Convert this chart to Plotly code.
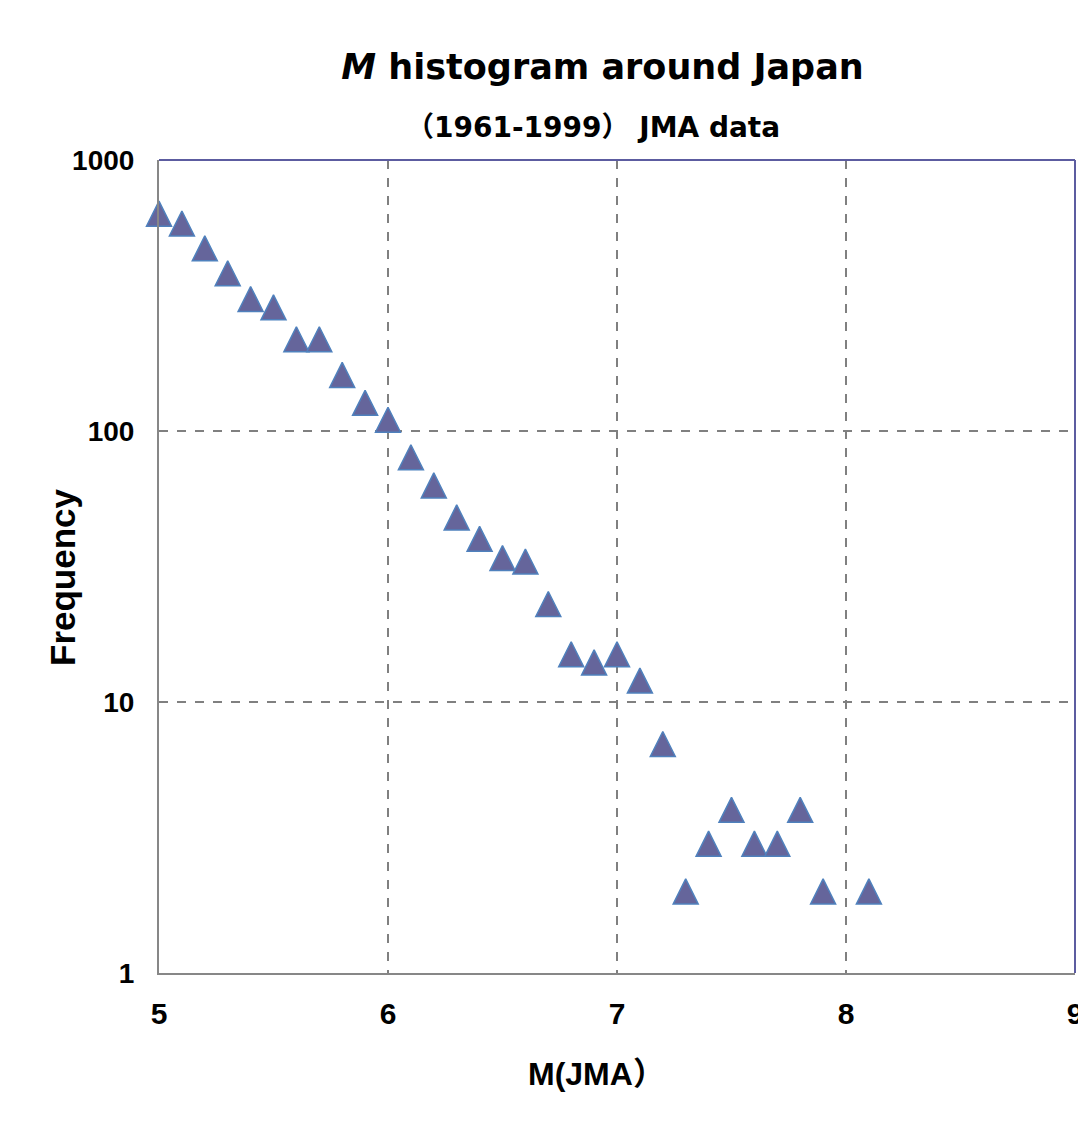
import plotly.graph_objects as go

magnitude = [5.0, 5.1, 5.2, 5.3, 5.4, 5.5, 5.6, 5.7, 5.8, 5.9,
             6.0, 6.1, 6.2, 6.3, 6.4, 6.5, 6.6, 6.7, 6.8, 6.9,
             7.0, 7.1, 7.2, 7.3, 7.4, 7.5, 7.6, 7.7, 7.8, 7.9, 8.1]
frequency = [634, 583, 472, 382, 307, 286, 218, 218, 161, 127,
             110, 80, 63, 48, 40, 34, 33, 23, 15, 14,
             15, 12, 7, 2, 3, 4, 3, 3, 4, 2, 2]

x_ticks = [5, 6, 7, 8, 9]
y_ticks = [1, 10, 100, 1000]
y_tick_text = ["1", "10", "100", "1000"]

FONT = "Liberation Sans, Arial, Noto Sans CJK JP, sans-serif"
NARROW = "Liberation Sans Narrow, Liberation Sans, Arial, sans-serif"
TFONT = "DejaVu Sans, Noto Sans CJK JP, sans-serif"
MSIZE = 25

# plot area in pixels
L, R, T, B = 159, 1075, 160, 973
W, H = 1078, 1129
PW, PH = R - L, B - T


def px_x(px):
    return (px - L) / PW


def px_y(py):
    return (B - py) / PH


fig = go.Figure()
fig.add_trace(go.Scatter(
    x=magnitude, y=frequency, mode="markers",
    marker=dict(symbol="arrow-down", angle=180, standoff=MSIZE / 2,
                size=MSIZE, color="#65659B",
                line=dict(color="#4F81BD", width=1.5)),
    showlegend=False, cliponaxis=False,
))

fig.update_layout(
    width=W, height=H,
    margin=dict(l=L, r=W - R, t=T, b=H - B, autoexpand=False),
    paper_bgcolor="white", plot_bgcolor="white",
    font=dict(family=FONT, color="black"),
    title=dict(text="<b><i>M</i> histogram around Japan</b>",
               x=602.5 / W, xanchor="center", xref="container",
               y=1 - 67 / H, yanchor="middle", automargin=False,
               font=dict(size=35, family=TFONT, color="black")),
    annotations=[
        dict(text="<b>（1961-1999） JMA data</b>", xref="paper", yref="paper",
             x=px_x(593), y=px_y(127),
             xanchor="center", yanchor="middle", showarrow=False,
             font=dict(size=28, family=TFONT, color="black")),
        dict(text="<b>Frequency</b>", xref="paper", yref="paper",
             x=px_x(62), y=px_y(577), textangle=-90,
             xanchor="center", yanchor="middle", showarrow=False,
             font=dict(size=35, family=FONT, color="black")),
        dict(text="<b>M(JMA）</b>", xref="paper", yref="paper",
             x=px_x(596), y=px_y(1074),
             xanchor="center", yanchor="middle", showarrow=False,
             font=dict(size=32, family=FONT, color="black")),
    ],
    shapes=[
        dict(type="line", xref="paper", yref="paper", x0=0, x1=1, y0=1, y1=1,
             line=dict(color="#5C5CA0", width=2), layer="above"),
        dict(type="line", xref="paper", yref="paper", x0=1, x1=1, y0=0, y1=1,
             line=dict(color="#5C5CA0", width=2), layer="above"),
    ],
)

fig.update_xaxes(
    range=[5, 9], tickvals=x_ticks, ticks="", ticklabelstandoff=13,
    ticklabeloverflow="allow", automargin=False,
    tickfont=dict(size=30, family=NARROW, color="black", weight="bold"),
    showline=True, linecolor="#878787", linewidth=2,
    showgrid=True, gridcolor="#808080", griddash="dash", gridwidth=2,
    zeroline=False,
)
fig.update_yaxes(
    type="log", range=[0, 3], tickvals=y_ticks, ticktext=y_tick_text,
    ticks="", ticklabelstandoff=17, automargin=False,
    tickfont=dict(size=28, family=FONT, color="black", weight="bold"),
    showline=True, linecolor="#878787", linewidth=2,
    showgrid=True, gridcolor="#808080", griddash="dash", gridwidth=2,
    zeroline=False,
)

fig.write_html(
    "out.html",
    config={"displayModeBar": False},
    post_script="document.body.style.margin='0';document.body.style.overflow='hidden';",
)
